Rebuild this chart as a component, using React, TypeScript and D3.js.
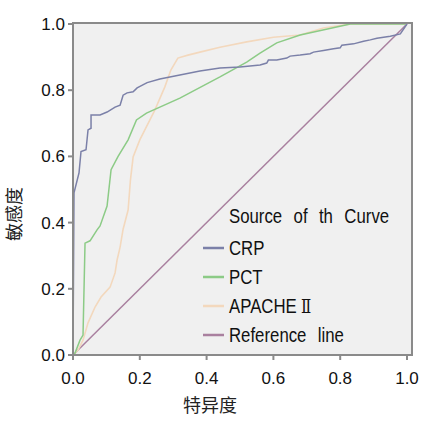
import * as d3 from "d3";

type Pt = [number, number];

const crpCurve: Pt[] = [
  [0, 0], [0.003, 0.49], [0.018, 0.55], [0.024, 0.615], [0.039, 0.62], [0.045, 0.68],
  [0.054, 0.685], [0.054, 0.725], [0.081, 0.725], [0.102, 0.734], [0.126, 0.749],
  [0.141, 0.755], [0.15, 0.785], [0.162, 0.792], [0.18, 0.795], [0.192, 0.807],
  [0.222, 0.823], [0.26, 0.834], [0.32, 0.846], [0.38, 0.858], [0.44, 0.867],
  [0.5, 0.87], [0.56, 0.876], [0.58, 0.882], [0.585, 0.891], [0.61, 0.891],
  [0.64, 0.897], [0.65, 0.903], [0.68, 0.906], [0.71, 0.91], [0.72, 0.915],
  [0.75, 0.92], [0.78, 0.925], [0.8, 0.928], [0.805, 0.936], [0.84, 0.94],
  [0.87, 0.948], [0.89, 0.952], [0.91, 0.957], [0.95, 0.963], [0.98, 0.97], [1, 1],
];

const pctCurve: Pt[] = [
  [0, 0], [0.006, 0.006], [0.021, 0.045], [0.03, 0.06], [0.036, 0.338], [0.051, 0.345],
  [0.072, 0.378], [0.081, 0.39], [0.102, 0.45], [0.114, 0.56], [0.135, 0.6],
  [0.165, 0.65], [0.19, 0.71], [0.22, 0.731], [0.32, 0.776], [0.44, 0.84],
  [0.52, 0.885], [0.56, 0.912], [0.61, 0.943], [0.68, 0.967], [0.83, 1.0], [1, 1],
];

const apacheCurve: Pt[] = [
  [0, 0], [0.015, 0.015], [0.03, 0.045], [0.045, 0.097], [0.066, 0.145], [0.084, 0.175],
  [0.111, 0.205], [0.126, 0.248], [0.132, 0.287], [0.141, 0.326], [0.15, 0.38],
  [0.165, 0.438], [0.172, 0.529], [0.18, 0.598], [0.2, 0.65], [0.245, 0.74],
  [0.275, 0.81], [0.293, 0.861], [0.314, 0.897], [0.344, 0.906], [0.38, 0.915],
  [0.44, 0.93], [0.52, 0.946], [0.6, 0.96], [0.68, 0.967], [0.75, 0.988], [0.83, 1.0], [1, 1],
];

const referenceLine: Pt[] = [[0, 0], [1, 1]];

const seriesNames = ["CRP", "PCT", "APACHE", "Reference line"];
const nameSuffix = ["", "", "Ⅱ", ""];
const seriesColors = ["#7b80a8", "#8ccb86", "#f3d8bd", "#a9809f"];
const seriesData = [crpCurve, pctCurve, apacheCurve, referenceLine];
const ticks = [0, 0.2, 0.4, 0.6, 0.8, 1.0];

export default function App() {
  const width = 425;
  const height = 424;
  const left = 73;
  const top = 24;
  const plotW = 334;
  const plotH = 331;

  const x = d3.scaleLinear().domain([0, 1]).range([left, left + plotW]);
  const y = d3.scaleLinear().domain([0, 1]).range([top + plotH, top]);
  const line = d3.line<Pt>().x((d) => x(d[0])).y((d) => y(d[1]));

  const frameRight = x(1) + 5;
  const tickFont = "Liberation Sans, Arial, sans-serif";
  const legendFont = "Liberation Sans, Arial, sans-serif";

  // draw order: reference first, then apache, pct, crp on top
  const order = [3, 2, 1, 0];

  return (
    <svg width={width} height={height} style={{ position: "absolute", left: 0, top: 0 }}>
      <rect x={0} y={0} width={width} height={height} fill="#ffffff" />
      <rect x={x(0)} y={y(1) - 1} width={frameRight - x(0)} height={y(0) - y(1) + 1} fill="#f0f0f0" />

      {order.map((i) => (
        <path
          key={seriesNames[i]}
          d={line(seriesData[i]) || ""}
          fill="none"
          stroke={seriesColors[i]}
          strokeWidth={i === 2 ? 1.6 : 1.5}
        />
      ))}

      {/* frame */}
      <rect
        x={x(0)}
        y={y(1) - 1}
        width={frameRight - x(0)}
        height={y(0) - y(1) + 1}
        fill="none"
        stroke="#8a8a8a"
        strokeWidth={2}
      />

      {ticks.map((t) => (
        <g key={`x${t}`}>
          <line x1={x(t)} x2={x(t)} y1={y(0)} y2={y(0) + 5} stroke="#8a8a8a" strokeWidth={2} />
          <text x={x(t)} y={y(0) + 29} textAnchor="middle" fontFamily={tickFont} fontSize={17} fill="#111">
            {d3.format(".1f")(t)}
          </text>
        </g>
      ))}
      {ticks.map((t) => (
        <g key={`y${t}`}>
          <line x1={x(0) - 5} x2={x(0)} y1={y(t)} y2={y(t)} stroke="#8a8a8a" strokeWidth={2} />
          <text x={x(0) - 8} y={y(t) + 6} textAnchor="end" fontFamily={tickFont} fontSize={17} fill="#111">
            {d3.format(".1f")(t)}
          </text>
        </g>
      ))}

      <text x={210} y={412} textAnchor="middle" fontFamily="Noto Sans CJK SC, sans-serif" fontSize={18} fill="#222">
        特异度
      </text>
      <text
        transform={`translate(21, 214) rotate(-90)`}
        textAnchor="middle"
        fontFamily="Noto Sans CJK SC, sans-serif"
        fontSize={18}
        fill="#222"
      >
        敏感度
      </text>

      {/* legend */}
      <text
        transform="translate(229, 223) scale(0.84, 1)"
        fontFamily={legendFont}
        fontSize={20}
        fill="#111"
        wordSpacing={8}
      >
        Source of th Curve
      </text>
      {seriesNames.map((name, i) => {
        const ly = 248 + i * 29;
        return (
          <g key={name}>
            <line x1={203} x2={224} y1={ly} y2={ly} stroke={seriesColors[i]} strokeWidth={2.5} />
            <text
              transform={`translate(229, ${ly + 7}) scale(0.84, 1)`}
              fontFamily={legendFont}
              fontSize={20}
              fill="#111"
              wordSpacing={8}
            >
              {name}
              {nameSuffix[i] && (
                <tspan dx={5} fontFamily="DejaVu Serif, serif" fontSize={18}>
                  {nameSuffix[i]}
                </tspan>
              )}
            </text>
          </g>
        );
      })}
    </svg>
  );
}
